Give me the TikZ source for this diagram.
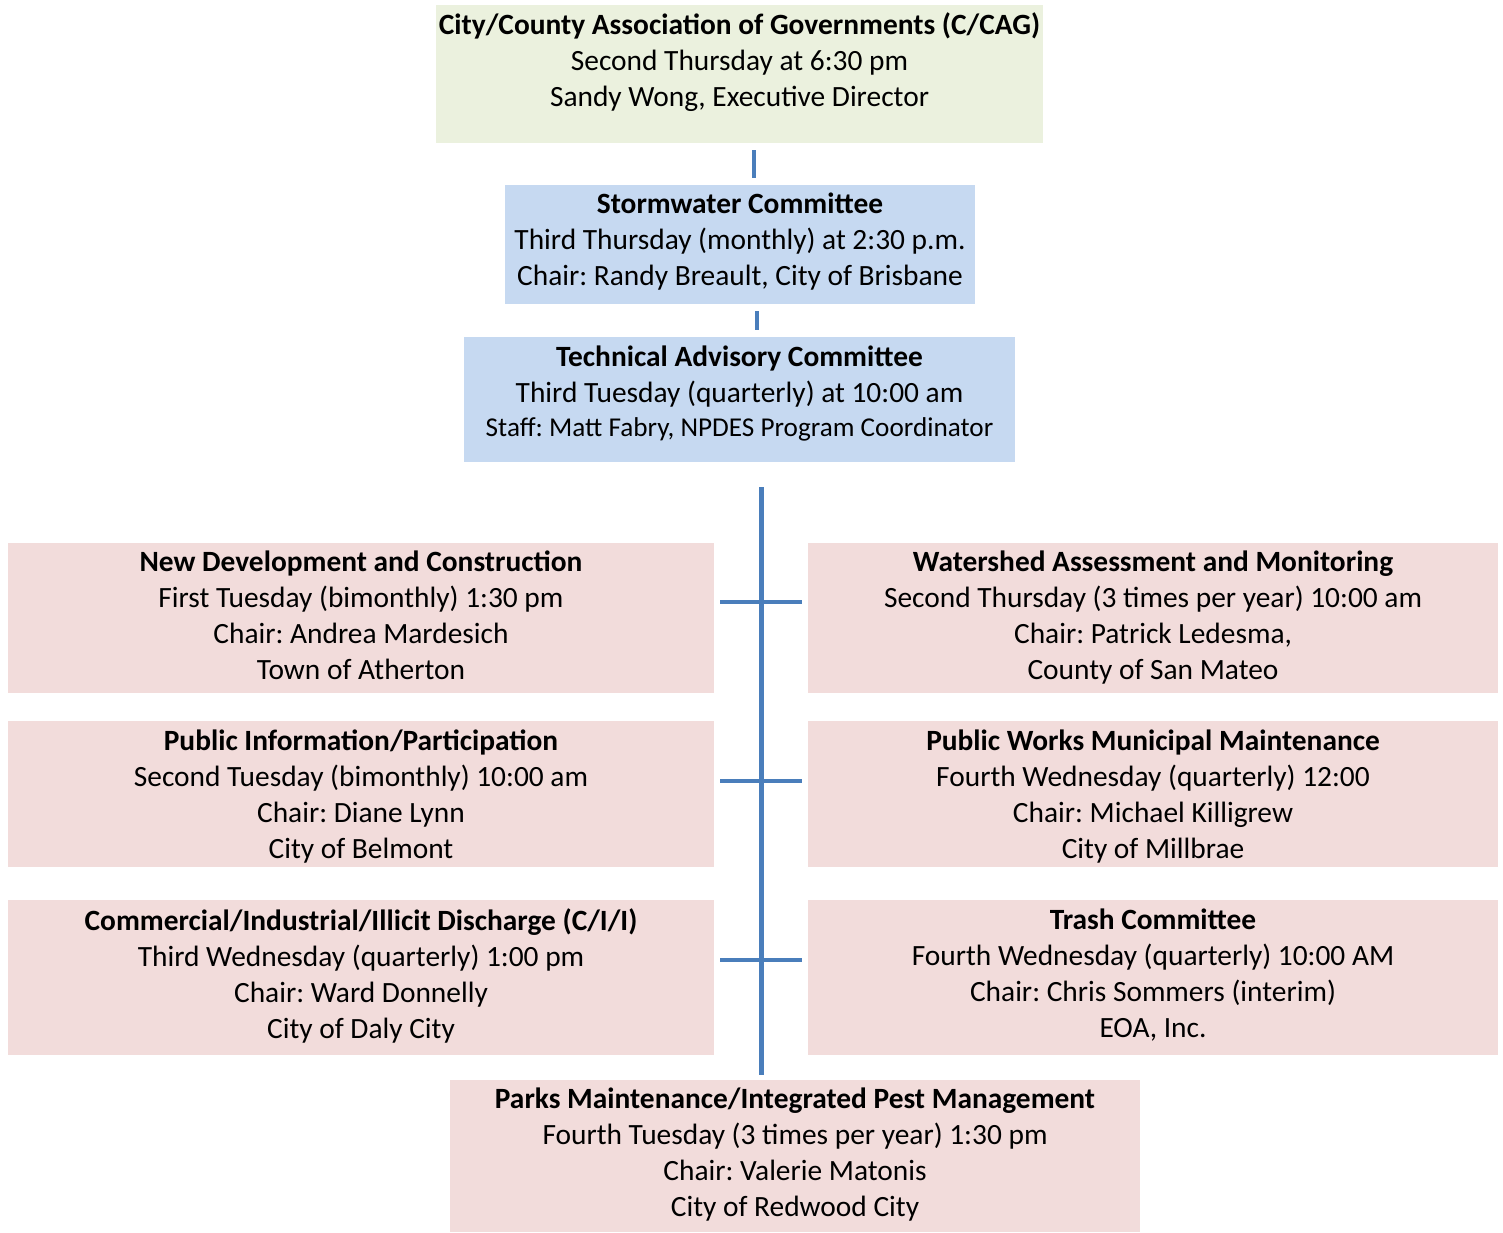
\documentclass[tikz,border=0pt]{standalone}
\usepackage{fontspec}
\setmainfont{Carlito}
\usepackage{xcolor}
\usetikzlibrary{positioning,fit,calc}
\frenchspacing

\definecolor{cagGreen}{HTML}{EBF1DE}
\definecolor{comBlue}{HTML}{C6D9F1}
\definecolor{subPink}{HTML}{F2DCDB}
\definecolor{linkBlue}{HTML}{4A7EBB}

\begin{document}
\begin{tikzpicture}[x=0.5pt, y=-0.5pt,
    box/.style={inner sep=0pt, draw=none},
    cagbox/.style={box, fill=cagGreen},
    combox/.style={box, fill=comBlue},
    subbox/.style={box, fill=subPink},
    txt/.style={anchor=north, align=center, inner sep=0pt, font=\fontsize{14.7}{18}\selectfont},
    link/.style={draw=linkBlue, line width=2pt}]
    \useasboundingbox (0,0) rectangle (1503,1232);

    % boxes
    \node (cag) [cagbox, fit={(436,5) (1043,143)}] {};
    \node (sw) [combox, fit={(505,185) (975,304)}] {};
    \node (tac) [combox, fit={(464,337) (1015,462)}] {};
    \node (ndc) [subbox, fit={(8,543) (714,693)}] {};
    \node (wam) [subbox, fit={(808,543) (1498,693)}] {};
    \node (pip) [subbox, fit={(8,721) (714,867)}] {};
    \node (pwm) [subbox, fit={(808,721) (1498,867)}] {};
    \node (cii) [subbox, fit={(8,900) (714,1055)}] {};
    \node (trash) [subbox, fit={(808,900) (1498,1055)}] {};
    \node (ipm) [subbox, fit={(450,1080) (1140,1232)}] {};

    % texts
    \node (cagt) [txt] at ([yshift=-4pt]cag.north) {\textbf{City/County Association of Governments (C/CAG)}\\
        Second Thursday at 6:30 pm\\ Sandy Wong, Executive Director};
    \node (swt) [txt] at ([yshift=-4pt]sw.north) {\textbf{Stormwater Committee}\\
        Third Thursday (monthly) at 2:30 p.m.\\ Chair: Randy Breault, City of Brisbane};
    \node (tact) [txt] at ([yshift=-4.5pt]tac.north) {\textbf{Technical Advisory Committee}\\
        Third Tuesday (quarterly) at 10:00 am\\[-1pt] {\fontsize{13.6}{17}\selectfont Staff: Matt Fabry, NPDES Program Coordinator}};
    \node (ndct) [txt] at ([yshift=-4pt]ndc.north) {\textbf{New Development and Construction}\\
        First Tuesday (bimonthly) 1:30 pm\\ Chair: Andrea Mardesich\\ Town of Atherton};
    \node (wamt) [txt] at ([yshift=-4pt]wam.north) {\textbf{Watershed Assessment and Monitoring}\\
        Second Thursday (3 times per year) 10:00 am\\ Chair: Patrick Ledesma,\\ County of San Mateo};
    \node (pipt) [txt] at ([yshift=-4.5pt]pip.north) {\textbf{Public Information/Participation}\\
        Second Tuesday (bimonthly) 10:00 am\\ Chair: Diane Lynn\\ City of Belmont};
    \node (pwmt) [txt] at ([yshift=-4.5pt]pwm.north) {\textbf{Public Works Municipal Maintenance}\\
        Fourth Wednesday (quarterly) 12:00\\ Chair: Michael Killigrew\\ City of Millbrae};
    \node (ciit) [txt] at ([yshift=-4.5pt]cii.north) {\textbf{Commercial/Industrial/Illicit Discharge (C/I/I)}\\
        Third Wednesday (quarterly) 1:00 pm\\ Chair: Ward Donnelly\\ City of Daly City};
    \node (trasht) [txt] at ([yshift=-4.5pt]trash.north) {\textbf{Trash Committee}\\
        Fourth Wednesday (quarterly) 10:00 AM\\ Chair: Chris Sommers (interim)\\ EOA, Inc.};
    \node (ipmt) [txt] at ([yshift=-4pt]ipm.north) {\textbf{Parks Maintenance/Integrated Pest Management}\\
        Fourth Tuesday (3 times per year) 1:30 pm\\ Chair: Valerie Matonis\\ City of Redwood City};

    % connectors
    \coordinate (spine) at (761,487);
    \coordinate (t1) at (761,602);
    \coordinate (t2) at (761,781);
    \coordinate (t3) at (761,960);
    \draw[link, shorten <=3.5pt, shorten >=3.5pt] ([xshift=7.25pt]cag.south) -- ([xshift=7.25pt]cag.south |- sw.north);
    \draw[link, shorten <=3.5pt, shorten >=3.5pt] ([xshift=8.5pt]sw.south) -- ([xshift=8.5pt]sw.south |- tac.north);
    \draw[link, line width=2.5pt, shorten >=2.5pt] (spine) -- (spine |- ipm.north);
    \draw[link, shorten <=3pt, shorten >=3pt] (ndc.east |- t1) -- (wam.west |- t1);
    \draw[link, shorten <=3pt, shorten >=3pt] (pip.east |- t2) -- (pwm.west |- t2);
    \draw[link, shorten <=3pt, shorten >=3pt] (cii.east |- t3) -- (trash.west |- t3);
\end{tikzpicture}
\end{document}
